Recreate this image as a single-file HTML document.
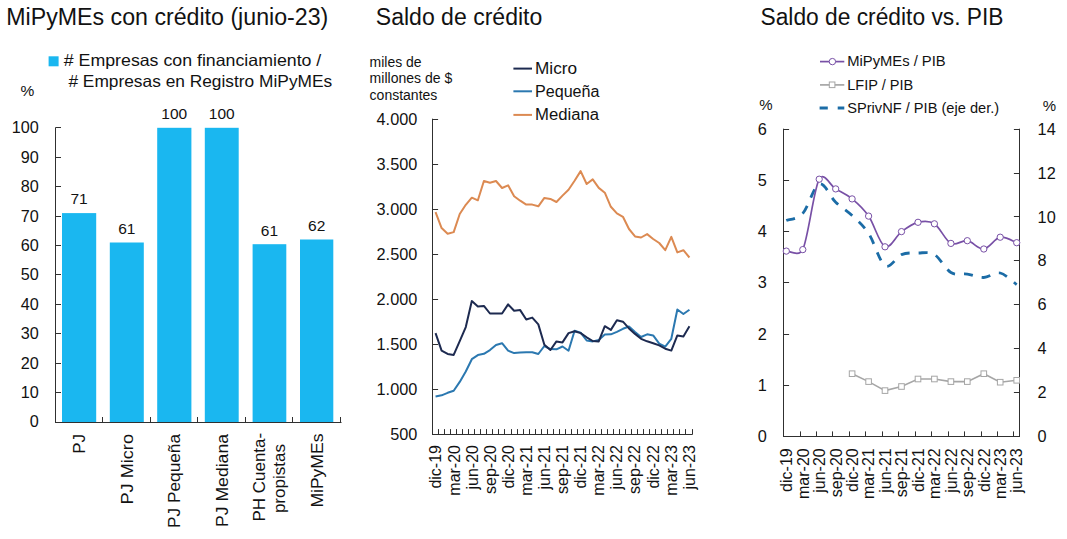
<!DOCTYPE html>
<html><head><meta charset="utf-8"><style>
html,body{margin:0;padding:0;background:#fff;width:1067px;height:539px;overflow:hidden}
svg{display:block;font-family:"Liberation Sans", sans-serif}
</style></head><body>
<svg width="1067" height="539" viewBox="0 0 1067 539">
<rect width="1067" height="539" fill="#fff"/>
<text x="6.30" y="24.80" font-size="23" textLength="322" lengthAdjust="spacingAndGlyphs" fill="#121212">MiPyMEs con crédito (junio-23)</text>
<text x="375.80" y="25.20" font-size="23" textLength="166.5" lengthAdjust="spacingAndGlyphs" fill="#121212">Saldo de crédito</text>
<text x="760.50" y="24.70" font-size="23" textLength="243" lengthAdjust="spacingAndGlyphs" fill="#121212">Saldo de crédito vs. PIB</text>
<rect x="48.6" y="56.3" width="10" height="10" fill="#1ab7f0"/>
<text x="63.80" y="66.30" font-size="16.5" textLength="257.5" lengthAdjust="spacingAndGlyphs" fill="#121212"># Empresas con financiamiento /</text>
<text x="68.40" y="87.20" font-size="16.5" textLength="263.8" lengthAdjust="spacingAndGlyphs" fill="#121212"># Empresas en Registro MiPyMEs</text>
<text x="20.50" y="95.50" font-size="15.5" fill="#121212">%</text>
<text x="38.80" y="427.40" font-size="16.2" text-anchor="end" fill="#121212">0</text>
<text x="38.80" y="398.00" font-size="16.2" text-anchor="end" fill="#121212">10</text>
<line x1="55.50" y1="392.50" x2="61.00" y2="392.50" stroke="#303030" stroke-width="1"/>
<text x="38.80" y="368.60" font-size="16.2" text-anchor="end" fill="#121212">20</text>
<line x1="55.50" y1="363.50" x2="61.00" y2="363.50" stroke="#303030" stroke-width="1"/>
<text x="38.80" y="339.20" font-size="16.2" text-anchor="end" fill="#121212">30</text>
<line x1="55.50" y1="333.50" x2="61.00" y2="333.50" stroke="#303030" stroke-width="1"/>
<text x="38.80" y="309.80" font-size="16.2" text-anchor="end" fill="#121212">40</text>
<line x1="55.50" y1="304.50" x2="61.00" y2="304.50" stroke="#303030" stroke-width="1"/>
<text x="38.80" y="280.40" font-size="16.2" text-anchor="end" fill="#121212">50</text>
<line x1="55.50" y1="274.50" x2="61.00" y2="274.50" stroke="#303030" stroke-width="1"/>
<text x="38.80" y="251.00" font-size="16.2" text-anchor="end" fill="#121212">60</text>
<line x1="55.50" y1="245.50" x2="61.00" y2="245.50" stroke="#303030" stroke-width="1"/>
<text x="38.80" y="221.60" font-size="16.2" text-anchor="end" fill="#121212">70</text>
<line x1="55.50" y1="216.50" x2="61.00" y2="216.50" stroke="#303030" stroke-width="1"/>
<text x="38.80" y="192.20" font-size="16.2" text-anchor="end" fill="#121212">80</text>
<line x1="55.50" y1="186.50" x2="61.00" y2="186.50" stroke="#303030" stroke-width="1"/>
<text x="38.80" y="162.80" font-size="16.2" text-anchor="end" fill="#121212">90</text>
<line x1="55.50" y1="157.50" x2="61.00" y2="157.50" stroke="#303030" stroke-width="1"/>
<text x="38.80" y="133.40" font-size="16.2" text-anchor="end" fill="#121212">100</text>
<line x1="55.50" y1="127.50" x2="61.00" y2="127.50" stroke="#303030" stroke-width="1"/>
<line x1="55.50" y1="127.50" x2="55.50" y2="422.50" stroke="#303030" stroke-width="1"/>
<line x1="55.00" y1="422.50" x2="341.50" y2="422.50" stroke="#303030" stroke-width="1"/>
<rect x="62" y="213.1" width="34.2" height="208.9" fill="#1ab7f0"/>
<text x="79.10" y="204.46" font-size="15.5" text-anchor="middle" fill="#121212">71</text>
<rect x="109.8" y="242.5" width="34.0" height="179.5" fill="#1ab7f0"/>
<text x="126.80" y="233.86" font-size="15.5" text-anchor="middle" fill="#121212">61</text>
<rect x="157.2" y="127.8" width="34.2" height="294.2" fill="#1ab7f0"/>
<text x="174.30" y="119.20" font-size="15.5" text-anchor="middle" fill="#121212">100</text>
<rect x="204.8" y="127.8" width="33.9" height="294.2" fill="#1ab7f0"/>
<text x="221.75" y="119.20" font-size="15.5" text-anchor="middle" fill="#121212">100</text>
<rect x="252.6" y="244.2" width="33.7" height="177.8" fill="#1ab7f0"/>
<text x="269.45" y="235.62" font-size="15.5" text-anchor="middle" fill="#121212">61</text>
<rect x="300" y="239.5" width="33.3" height="182.5" fill="#1ab7f0"/>
<text x="316.65" y="230.92" font-size="15.5" text-anchor="middle" fill="#121212">62</text>
<line x1="102.50" y1="417.00" x2="102.50" y2="422.50" stroke="#303030" stroke-width="1"/>
<line x1="150.50" y1="417.00" x2="150.50" y2="422.50" stroke="#303030" stroke-width="1"/>
<line x1="197.50" y1="417.00" x2="197.50" y2="422.50" stroke="#303030" stroke-width="1"/>
<line x1="245.50" y1="417.00" x2="245.50" y2="422.50" stroke="#303030" stroke-width="1"/>
<line x1="292.50" y1="417.00" x2="292.50" y2="422.50" stroke="#303030" stroke-width="1"/>
<line x1="340.50" y1="417.00" x2="340.50" y2="422.50" stroke="#303030" stroke-width="1"/>
<text transform="translate(85.00,434.00) rotate(-90)" font-size="17" text-anchor="end" fill="#121212">PJ</text>
<text transform="translate(132.70,434.00) rotate(-90)" font-size="17" text-anchor="end" textLength="70.5" lengthAdjust="spacingAndGlyphs" fill="#121212">PJ Micro</text>
<text transform="translate(180.20,434.00) rotate(-90)" font-size="17" text-anchor="end" textLength="94" lengthAdjust="spacingAndGlyphs" fill="#121212">PJ Pequeña</text>
<text transform="translate(227.65,434.00) rotate(-90)" font-size="17" text-anchor="end" textLength="93" lengthAdjust="spacingAndGlyphs" fill="#121212">PJ Mediana</text>
<text transform="translate(265.45,477.2) rotate(-90)" font-size="17" text-anchor="middle" fill="#121212">PH Cuenta-</text>
<text transform="translate(285.24999999999994,478.6) rotate(-90)" font-size="17" text-anchor="middle" fill="#121212">propistas</text>
<text transform="translate(322.55,433.60) rotate(-90)" font-size="17" text-anchor="end" textLength="74" lengthAdjust="spacingAndGlyphs" fill="#121212">MiPyMEs</text>
<text x="369.60" y="67.00" font-size="14" textLength="52" lengthAdjust="spacingAndGlyphs" fill="#121212">miles de</text>
<text x="369.60" y="83.10" font-size="14" textLength="82.7" lengthAdjust="spacingAndGlyphs" fill="#121212">millones de $</text>
<text x="369.60" y="99.50" font-size="14" fill="#121212">constantes</text>
<line x1="513.40" y1="68.60" x2="532.00" y2="68.60" stroke="#1d2a50" stroke-width="2"/>
<text x="535.00" y="73.70" font-size="16" textLength="42" lengthAdjust="spacingAndGlyphs" fill="#121212">Micro</text>
<line x1="513.40" y1="91.30" x2="532.00" y2="91.30" stroke="#2b78b0" stroke-width="2"/>
<text x="535.00" y="97.10" font-size="16" textLength="64.5" lengthAdjust="spacingAndGlyphs" fill="#121212">Pequeña</text>
<line x1="513.40" y1="114.90" x2="532.00" y2="114.90" stroke="#dc8a52" stroke-width="2"/>
<text x="535.00" y="119.60" font-size="16" textLength="64" lengthAdjust="spacingAndGlyphs" fill="#121212">Mediana</text>
<text x="417.30" y="124.90" font-size="16.3" text-anchor="end" fill="#121212">4.000</text>
<line x1="432.60" y1="119.50" x2="438.10" y2="119.50" stroke="#303030" stroke-width="1"/>
<text x="417.30" y="169.89" font-size="16.3" text-anchor="end" fill="#121212">3.500</text>
<line x1="432.60" y1="164.50" x2="438.10" y2="164.50" stroke="#303030" stroke-width="1"/>
<text x="417.30" y="214.87" font-size="16.3" text-anchor="end" fill="#121212">3.000</text>
<line x1="432.60" y1="209.50" x2="438.10" y2="209.50" stroke="#303030" stroke-width="1"/>
<text x="417.30" y="259.86" font-size="16.3" text-anchor="end" fill="#121212">2.500</text>
<line x1="432.60" y1="254.50" x2="438.10" y2="254.50" stroke="#303030" stroke-width="1"/>
<text x="417.30" y="304.84" font-size="16.3" text-anchor="end" fill="#121212">2.000</text>
<line x1="432.60" y1="299.50" x2="438.10" y2="299.50" stroke="#303030" stroke-width="1"/>
<text x="417.30" y="349.83" font-size="16.3" text-anchor="end" fill="#121212">1.500</text>
<line x1="432.60" y1="344.50" x2="438.10" y2="344.50" stroke="#303030" stroke-width="1"/>
<text x="417.30" y="394.81" font-size="16.3" text-anchor="end" fill="#121212">1.000</text>
<line x1="432.60" y1="389.50" x2="438.10" y2="389.50" stroke="#303030" stroke-width="1"/>
<text x="417.30" y="439.80" font-size="16.3" text-anchor="end" fill="#121212">500</text>
<line x1="432.50" y1="118.70" x2="432.50" y2="435.00" stroke="#303030" stroke-width="1"/>
<line x1="432.60" y1="434.50" x2="692.50" y2="434.50" stroke="#303030" stroke-width="1"/>
<line x1="438.50" y1="429.10" x2="438.50" y2="434.50" stroke="#303030" stroke-width="1"/>
<line x1="444.50" y1="429.10" x2="444.50" y2="434.50" stroke="#303030" stroke-width="1"/>
<line x1="450.50" y1="429.10" x2="450.50" y2="434.50" stroke="#303030" stroke-width="1"/>
<line x1="456.50" y1="429.10" x2="456.50" y2="434.50" stroke="#303030" stroke-width="1"/>
<line x1="462.50" y1="429.10" x2="462.50" y2="434.50" stroke="#303030" stroke-width="1"/>
<line x1="468.50" y1="429.10" x2="468.50" y2="434.50" stroke="#303030" stroke-width="1"/>
<line x1="474.50" y1="429.10" x2="474.50" y2="434.50" stroke="#303030" stroke-width="1"/>
<line x1="480.50" y1="429.10" x2="480.50" y2="434.50" stroke="#303030" stroke-width="1"/>
<line x1="486.50" y1="429.10" x2="486.50" y2="434.50" stroke="#303030" stroke-width="1"/>
<line x1="492.50" y1="429.10" x2="492.50" y2="434.50" stroke="#303030" stroke-width="1"/>
<line x1="498.50" y1="429.10" x2="498.50" y2="434.50" stroke="#303030" stroke-width="1"/>
<line x1="504.50" y1="429.10" x2="504.50" y2="434.50" stroke="#303030" stroke-width="1"/>
<line x1="511.50" y1="429.10" x2="511.50" y2="434.50" stroke="#303030" stroke-width="1"/>
<line x1="517.50" y1="429.10" x2="517.50" y2="434.50" stroke="#303030" stroke-width="1"/>
<line x1="523.50" y1="429.10" x2="523.50" y2="434.50" stroke="#303030" stroke-width="1"/>
<line x1="529.50" y1="429.10" x2="529.50" y2="434.50" stroke="#303030" stroke-width="1"/>
<line x1="535.50" y1="429.10" x2="535.50" y2="434.50" stroke="#303030" stroke-width="1"/>
<line x1="541.50" y1="429.10" x2="541.50" y2="434.50" stroke="#303030" stroke-width="1"/>
<line x1="547.50" y1="429.10" x2="547.50" y2="434.50" stroke="#303030" stroke-width="1"/>
<line x1="553.50" y1="429.10" x2="553.50" y2="434.50" stroke="#303030" stroke-width="1"/>
<line x1="559.50" y1="429.10" x2="559.50" y2="434.50" stroke="#303030" stroke-width="1"/>
<line x1="565.50" y1="429.10" x2="565.50" y2="434.50" stroke="#303030" stroke-width="1"/>
<line x1="571.50" y1="429.10" x2="571.50" y2="434.50" stroke="#303030" stroke-width="1"/>
<line x1="577.50" y1="429.10" x2="577.50" y2="434.50" stroke="#303030" stroke-width="1"/>
<line x1="583.50" y1="429.10" x2="583.50" y2="434.50" stroke="#303030" stroke-width="1"/>
<line x1="589.50" y1="429.10" x2="589.50" y2="434.50" stroke="#303030" stroke-width="1"/>
<line x1="595.50" y1="429.10" x2="595.50" y2="434.50" stroke="#303030" stroke-width="1"/>
<line x1="601.50" y1="429.10" x2="601.50" y2="434.50" stroke="#303030" stroke-width="1"/>
<line x1="607.50" y1="429.10" x2="607.50" y2="434.50" stroke="#303030" stroke-width="1"/>
<line x1="613.50" y1="429.10" x2="613.50" y2="434.50" stroke="#303030" stroke-width="1"/>
<line x1="619.50" y1="429.10" x2="619.50" y2="434.50" stroke="#303030" stroke-width="1"/>
<line x1="625.50" y1="429.10" x2="625.50" y2="434.50" stroke="#303030" stroke-width="1"/>
<line x1="631.50" y1="429.10" x2="631.50" y2="434.50" stroke="#303030" stroke-width="1"/>
<line x1="637.50" y1="429.10" x2="637.50" y2="434.50" stroke="#303030" stroke-width="1"/>
<line x1="643.50" y1="429.10" x2="643.50" y2="434.50" stroke="#303030" stroke-width="1"/>
<line x1="649.50" y1="429.10" x2="649.50" y2="434.50" stroke="#303030" stroke-width="1"/>
<line x1="655.50" y1="429.10" x2="655.50" y2="434.50" stroke="#303030" stroke-width="1"/>
<line x1="661.50" y1="429.10" x2="661.50" y2="434.50" stroke="#303030" stroke-width="1"/>
<line x1="667.50" y1="429.10" x2="667.50" y2="434.50" stroke="#303030" stroke-width="1"/>
<line x1="673.50" y1="429.10" x2="673.50" y2="434.50" stroke="#303030" stroke-width="1"/>
<line x1="679.50" y1="429.10" x2="679.50" y2="434.50" stroke="#303030" stroke-width="1"/>
<line x1="685.50" y1="429.10" x2="685.50" y2="434.50" stroke="#303030" stroke-width="1"/>
<line x1="692.50" y1="429.10" x2="692.50" y2="434.50" stroke="#303030" stroke-width="1"/>
<text transform="translate(441.42,445.00) rotate(-90)" font-size="16" text-anchor="end" fill="#121212">dic-19</text>
<text transform="translate(459.51,445.00) rotate(-90)" font-size="16" text-anchor="end" fill="#121212">mar-20</text>
<text transform="translate(477.61,445.00) rotate(-90)" font-size="16" text-anchor="end" fill="#121212">jun-20</text>
<text transform="translate(495.71,445.00) rotate(-90)" font-size="16" text-anchor="end" fill="#121212">sep-20</text>
<text transform="translate(513.81,445.00) rotate(-90)" font-size="16" text-anchor="end" fill="#121212">dic-20</text>
<text transform="translate(531.90,445.00) rotate(-90)" font-size="16" text-anchor="end" fill="#121212">mar-21</text>
<text transform="translate(550.00,445.00) rotate(-90)" font-size="16" text-anchor="end" fill="#121212">jun-21</text>
<text transform="translate(568.10,445.00) rotate(-90)" font-size="16" text-anchor="end" fill="#121212">sep-21</text>
<text transform="translate(586.20,445.00) rotate(-90)" font-size="16" text-anchor="end" fill="#121212">dic-21</text>
<text transform="translate(604.30,445.00) rotate(-90)" font-size="16" text-anchor="end" fill="#121212">mar-22</text>
<text transform="translate(622.39,445.00) rotate(-90)" font-size="16" text-anchor="end" fill="#121212">jun-22</text>
<text transform="translate(640.49,445.00) rotate(-90)" font-size="16" text-anchor="end" fill="#121212">sep-22</text>
<text transform="translate(658.59,445.00) rotate(-90)" font-size="16" text-anchor="end" fill="#121212">dic-22</text>
<text transform="translate(676.69,445.00) rotate(-90)" font-size="16" text-anchor="end" fill="#121212">mar-23</text>
<text transform="translate(694.78,445.00) rotate(-90)" font-size="16" text-anchor="end" fill="#121212">jun-23</text>
<polyline points="435.55,212.2 441.60,228.1 447.64,233.8 453.69,232.1 459.73,214.0 465.78,204.8 471.82,197.7 477.87,200.3 483.91,181.0 489.96,182.8 496.00,181.0 502.05,188.0 508.09,185.3 514.13,196.2 520.18,200.7 526.23,204.6 532.27,204.6 538.32,206.3 544.36,197.9 550.40,198.9 556.45,202.0 562.50,195.6 568.54,189.7 574.59,180.8 580.63,171.1 586.67,184.0 592.72,179.4 598.76,187.9 604.81,192.7 610.86,206.8 616.90,213.4 622.95,216.8 628.99,229.0 635.03,236.4 641.08,237.5 647.12,234.1 653.17,239.0 659.22,243.0 665.26,250.2 671.31,236.8 677.35,252.4 683.39,250.2 689.44,257.5" fill="none" stroke="#dc8a52" stroke-width="2" stroke-linejoin="round"/>
<polyline points="435.55,396.5 441.60,395.3 447.64,392.8 453.69,390.8 459.73,381.9 465.78,371.5 471.82,359.2 477.87,355.1 483.91,353.8 489.96,350.1 496.00,345.0 502.05,343.2 508.09,350.6 514.13,353.1 520.18,352.6 526.23,352.2 532.27,352.2 538.32,354.0 544.36,346.0 550.40,349.1 556.45,349.3 562.50,346.5 568.54,350.7 574.59,330.8 580.63,332.6 586.67,340.5 592.72,341.4 598.76,340.0 604.81,334.6 610.86,334.3 616.90,331.8 622.95,328.8 628.99,326.5 635.03,332.1 641.08,337.0 647.12,334.3 653.17,335.4 659.22,343.7 665.26,346.6 671.31,338.8 677.35,309.5 683.39,314.0 689.44,309.8" fill="none" stroke="#2b78b0" stroke-width="2" stroke-linejoin="round"/>
<polyline points="435.55,333.1 441.60,350.6 447.64,353.9 453.69,354.9 459.73,341.2 465.78,327.1 471.82,301.1 477.87,306.6 483.91,305.9 489.96,313.5 496.00,313.5 502.05,313.5 508.09,304.4 514.13,310.8 520.18,310.1 526.23,319.5 532.27,317.6 538.32,324.4 544.36,344.7 550.40,350.0 556.45,341.4 562.50,342.4 568.54,333.1 574.59,331.2 580.63,333.1 586.67,337.3 592.72,341.0 598.76,341.4 604.81,326.2 610.86,329.9 616.90,320.2 622.95,321.7 628.99,328.4 635.03,333.9 641.08,338.8 647.12,341.3 653.17,343.2 659.22,345.4 665.26,348.7 671.31,350.6 677.35,335.4 683.39,336.5 689.44,326.2" fill="none" stroke="#1d2a50" stroke-width="2" stroke-linejoin="round"/>
<line x1="820.00" y1="61.60" x2="844.30" y2="61.60" stroke="#7850a6" stroke-width="1.7"/>
<circle cx="832.4" cy="61.6" r="3.2" fill="#fff" stroke="#7850a6" stroke-width="1"/>
<text x="847.20" y="66.40" font-size="15.5" textLength="98.5" lengthAdjust="spacingAndGlyphs" fill="#121212">MiPyMEs / PIB</text>
<line x1="820.00" y1="84.90" x2="844.30" y2="84.90" stroke="#a6a6a6" stroke-width="1.7"/>
<rect x="829.3" y="82" width="5.6" height="5.6" fill="#fff" stroke="#a6a6a6" stroke-width="1"/>
<text x="847.20" y="89.50" font-size="15.5" textLength="66" lengthAdjust="spacingAndGlyphs" fill="#121212">LFIP / PIB</text>
<line x1="819.60" y1="108.00" x2="827.80" y2="108.00" stroke="#1b6ca6" stroke-width="3"/>
<line x1="837.70" y1="108.00" x2="844.30" y2="108.00" stroke="#1b6ca6" stroke-width="3"/>
<text x="847.20" y="113.20" font-size="15.5" textLength="152" lengthAdjust="spacingAndGlyphs" fill="#121212">SPrivNF / PIB (eje der.)</text>
<text x="759.20" y="109.50" font-size="15" fill="#121212">%</text>
<text x="1042.70" y="111.30" font-size="15" fill="#121212">%</text>
<line x1="783.50" y1="128.70" x2="783.50" y2="437.00" stroke="#303030" stroke-width="1"/>
<line x1="1019.50" y1="128.70" x2="1019.50" y2="437.00" stroke="#303030" stroke-width="1"/>
<line x1="783.60" y1="436.50" x2="1019.40" y2="436.50" stroke="#303030" stroke-width="1"/>
<text x="766.80" y="442.00" font-size="16.3" text-anchor="end" fill="#121212">0</text>
<text x="766.80" y="390.80" font-size="16.3" text-anchor="end" fill="#121212">1</text>
<line x1="783.60" y1="385.50" x2="789.10" y2="385.50" stroke="#303030" stroke-width="1"/>
<text x="766.80" y="339.60" font-size="16.3" text-anchor="end" fill="#121212">2</text>
<line x1="783.60" y1="334.50" x2="789.10" y2="334.50" stroke="#303030" stroke-width="1"/>
<text x="766.80" y="288.40" font-size="16.3" text-anchor="end" fill="#121212">3</text>
<line x1="783.60" y1="282.50" x2="789.10" y2="282.50" stroke="#303030" stroke-width="1"/>
<text x="766.80" y="237.20" font-size="16.3" text-anchor="end" fill="#121212">4</text>
<line x1="783.60" y1="231.50" x2="789.10" y2="231.50" stroke="#303030" stroke-width="1"/>
<text x="766.80" y="186.00" font-size="16.3" text-anchor="end" fill="#121212">5</text>
<line x1="783.60" y1="180.50" x2="789.10" y2="180.50" stroke="#303030" stroke-width="1"/>
<text x="766.80" y="134.80" font-size="16.3" text-anchor="end" fill="#121212">6</text>
<line x1="783.60" y1="129.50" x2="789.10" y2="129.50" stroke="#303030" stroke-width="1"/>
<text x="1037.60" y="442.00" font-size="16.3" fill="#121212">0</text>
<text x="1037.60" y="398.11" font-size="16.3" fill="#121212">2</text>
<line x1="1013.90" y1="392.50" x2="1019.40" y2="392.50" stroke="#303030" stroke-width="1"/>
<text x="1037.60" y="354.23" font-size="16.3" fill="#121212">4</text>
<line x1="1013.90" y1="348.50" x2="1019.40" y2="348.50" stroke="#303030" stroke-width="1"/>
<text x="1037.60" y="310.34" font-size="16.3" fill="#121212">6</text>
<line x1="1013.90" y1="304.50" x2="1019.40" y2="304.50" stroke="#303030" stroke-width="1"/>
<text x="1037.60" y="266.46" font-size="16.3" fill="#121212">8</text>
<line x1="1013.90" y1="260.50" x2="1019.40" y2="260.50" stroke="#303030" stroke-width="1"/>
<text x="1037.60" y="222.57" font-size="16.3" fill="#121212">10</text>
<line x1="1013.90" y1="216.50" x2="1019.40" y2="216.50" stroke="#303030" stroke-width="1"/>
<text x="1037.60" y="178.69" font-size="16.3" fill="#121212">12</text>
<line x1="1013.90" y1="173.50" x2="1019.40" y2="173.50" stroke="#303030" stroke-width="1"/>
<text x="1037.60" y="134.80" font-size="16.3" fill="#121212">14</text>
<line x1="1013.90" y1="129.50" x2="1019.40" y2="129.50" stroke="#303030" stroke-width="1"/>
<line x1="800.50" y1="431.40" x2="800.50" y2="436.50" stroke="#303030" stroke-width="1"/>
<line x1="816.50" y1="431.40" x2="816.50" y2="436.50" stroke="#303030" stroke-width="1"/>
<line x1="832.50" y1="431.40" x2="832.50" y2="436.50" stroke="#303030" stroke-width="1"/>
<line x1="849.50" y1="431.40" x2="849.50" y2="436.50" stroke="#303030" stroke-width="1"/>
<line x1="865.50" y1="431.40" x2="865.50" y2="436.50" stroke="#303030" stroke-width="1"/>
<line x1="882.50" y1="431.40" x2="882.50" y2="436.50" stroke="#303030" stroke-width="1"/>
<line x1="898.50" y1="431.40" x2="898.50" y2="436.50" stroke="#303030" stroke-width="1"/>
<line x1="915.50" y1="431.40" x2="915.50" y2="436.50" stroke="#303030" stroke-width="1"/>
<line x1="931.50" y1="431.40" x2="931.50" y2="436.50" stroke="#303030" stroke-width="1"/>
<line x1="948.50" y1="431.40" x2="948.50" y2="436.50" stroke="#303030" stroke-width="1"/>
<line x1="964.50" y1="431.40" x2="964.50" y2="436.50" stroke="#303030" stroke-width="1"/>
<line x1="981.50" y1="431.40" x2="981.50" y2="436.50" stroke="#303030" stroke-width="1"/>
<line x1="997.50" y1="431.40" x2="997.50" y2="436.50" stroke="#303030" stroke-width="1"/>
<line x1="1013.50" y1="431.40" x2="1013.50" y2="436.50" stroke="#303030" stroke-width="1"/>
<text transform="translate(792.14,448.30) rotate(-90)" font-size="16" text-anchor="end" fill="#121212">dic-19</text>
<text transform="translate(808.59,448.30) rotate(-90)" font-size="16" text-anchor="end" fill="#121212">mar-20</text>
<text transform="translate(825.04,448.30) rotate(-90)" font-size="16" text-anchor="end" fill="#121212">jun-20</text>
<text transform="translate(841.50,448.30) rotate(-90)" font-size="16" text-anchor="end" fill="#121212">sep-20</text>
<text transform="translate(857.95,448.30) rotate(-90)" font-size="16" text-anchor="end" fill="#121212">dic-20</text>
<text transform="translate(874.40,448.30) rotate(-90)" font-size="16" text-anchor="end" fill="#121212">mar-21</text>
<text transform="translate(890.85,448.30) rotate(-90)" font-size="16" text-anchor="end" fill="#121212">jun-21</text>
<text transform="translate(907.30,448.30) rotate(-90)" font-size="16" text-anchor="end" fill="#121212">sep-21</text>
<text transform="translate(923.75,448.30) rotate(-90)" font-size="16" text-anchor="end" fill="#121212">dic-21</text>
<text transform="translate(940.20,448.30) rotate(-90)" font-size="16" text-anchor="end" fill="#121212">mar-22</text>
<text transform="translate(956.65,448.30) rotate(-90)" font-size="16" text-anchor="end" fill="#121212">jun-22</text>
<text transform="translate(973.10,448.30) rotate(-90)" font-size="16" text-anchor="end" fill="#121212">sep-22</text>
<text transform="translate(989.56,448.30) rotate(-90)" font-size="16" text-anchor="end" fill="#121212">dic-22</text>
<text transform="translate(1006.01,448.30) rotate(-90)" font-size="16" text-anchor="end" fill="#121212">mar-23</text>
<text transform="translate(1022.46,448.30) rotate(-90)" font-size="16" text-anchor="end" fill="#121212">jun-23</text>
<path d="M786.3,220.5 C789.08,219.32 797.31,219.48 802.8,213.4 C808.28,207.32 813.76,185.85 819.2,184.0 C824.73,182.15 830.21,197.03 835.7,202.3 C841.18,207.57 846.66,210.42 852.1,215.6 C857.63,220.78 863.11,225.05 868.6,233.4 C874.08,241.75 879.57,262.17 885.0,265.7 C890.53,269.23 896.02,256.72 901.5,254.6 C906.98,252.48 912.47,253.02 918.0,253.0 C923.43,252.98 928.92,251.25 934.4,254.5 C939.89,257.75 945.37,269.23 950.9,272.5 C956.34,275.77 961.82,273.27 967.3,274.1 C972.79,274.93 978.27,277.68 983.8,277.5 C989.24,277.32 994.72,271.82 1000.2,273.0 C1005.69,274.18 1013.92,282.67 1016.7,284.6" fill="none" stroke="#1b6ca6" stroke-width="2.8" stroke-dasharray="9,9"/>
<polyline points="852.1,373.7 868.6,381.6 885.0,390.6 901.5,386.5 918.0,379.0 934.4,379.0 950.9,381.6 967.3,381.6 983.8,373.7 1000.2,382.2 1016.7,380.3" fill="none" stroke="#a6a6a6" stroke-width="1.6"/>
<rect x="849.3" y="370.9" width="5.6" height="5.6" fill="#fff" stroke="#a6a6a6" stroke-width="1"/>
<rect x="865.8" y="378.8" width="5.6" height="5.6" fill="#fff" stroke="#a6a6a6" stroke-width="1"/>
<rect x="882.2" y="387.8" width="5.6" height="5.6" fill="#fff" stroke="#a6a6a6" stroke-width="1"/>
<rect x="898.7" y="383.7" width="5.6" height="5.6" fill="#fff" stroke="#a6a6a6" stroke-width="1"/>
<rect x="915.2" y="376.2" width="5.6" height="5.6" fill="#fff" stroke="#a6a6a6" stroke-width="1"/>
<rect x="931.6" y="376.2" width="5.6" height="5.6" fill="#fff" stroke="#a6a6a6" stroke-width="1"/>
<rect x="948.1" y="378.8" width="5.6" height="5.6" fill="#fff" stroke="#a6a6a6" stroke-width="1"/>
<rect x="964.5" y="378.8" width="5.6" height="5.6" fill="#fff" stroke="#a6a6a6" stroke-width="1"/>
<rect x="981.0" y="370.9" width="5.6" height="5.6" fill="#fff" stroke="#a6a6a6" stroke-width="1"/>
<rect x="997.4" y="379.4" width="5.6" height="5.6" fill="#fff" stroke="#a6a6a6" stroke-width="1"/>
<rect x="1013.9" y="377.5" width="5.6" height="5.6" fill="#fff" stroke="#a6a6a6" stroke-width="1"/>
<path d="M786.3,251.1 C789.08,250.85 799.36,257.11 802.8,249.6 C808.28,237.62 813.76,189.32 819.2,179.2 C823.79,170.81 830.21,185.62 835.7,188.9 C841.18,192.18 846.66,194.37 852.1,198.9 C857.63,203.43 863.11,208.12 868.6,216.1 C874.08,224.08 879.57,244.22 885.0,246.8 C890.53,249.38 896.02,235.68 901.5,231.6 C906.98,227.52 912.47,223.60 918.0,222.3 C923.43,221.00 928.92,220.28 934.4,223.8 C939.89,227.32 945.37,240.58 950.9,243.4 C956.34,246.22 961.82,239.77 967.3,240.7 C972.79,241.63 978.27,249.58 983.8,249.0 C989.24,248.42 994.72,238.25 1000.2,237.2 C1005.69,236.15 1013.92,241.78 1016.7,242.7" fill="none" stroke="#7850a6" stroke-width="1.7"/>
<circle cx="786.3" cy="251.1" r="3.15" fill="#fff" stroke="#7850a6" stroke-width="1"/>
<circle cx="802.8" cy="249.6" r="3.15" fill="#fff" stroke="#7850a6" stroke-width="1"/>
<circle cx="819.2" cy="179.2" r="3.15" fill="#fff" stroke="#7850a6" stroke-width="1"/>
<circle cx="835.7" cy="188.9" r="3.15" fill="#fff" stroke="#7850a6" stroke-width="1"/>
<circle cx="852.1" cy="198.9" r="3.15" fill="#fff" stroke="#7850a6" stroke-width="1"/>
<circle cx="868.6" cy="216.1" r="3.15" fill="#fff" stroke="#7850a6" stroke-width="1"/>
<circle cx="885.0" cy="246.8" r="3.15" fill="#fff" stroke="#7850a6" stroke-width="1"/>
<circle cx="901.5" cy="231.6" r="3.15" fill="#fff" stroke="#7850a6" stroke-width="1"/>
<circle cx="918.0" cy="222.3" r="3.15" fill="#fff" stroke="#7850a6" stroke-width="1"/>
<circle cx="934.4" cy="223.8" r="3.15" fill="#fff" stroke="#7850a6" stroke-width="1"/>
<circle cx="950.9" cy="243.4" r="3.15" fill="#fff" stroke="#7850a6" stroke-width="1"/>
<circle cx="967.3" cy="240.7" r="3.15" fill="#fff" stroke="#7850a6" stroke-width="1"/>
<circle cx="983.8" cy="249.0" r="3.15" fill="#fff" stroke="#7850a6" stroke-width="1"/>
<circle cx="1000.2" cy="237.2" r="3.15" fill="#fff" stroke="#7850a6" stroke-width="1"/>
<circle cx="1016.7" cy="242.7" r="3.15" fill="#fff" stroke="#7850a6" stroke-width="1"/>
</svg></body></html>
